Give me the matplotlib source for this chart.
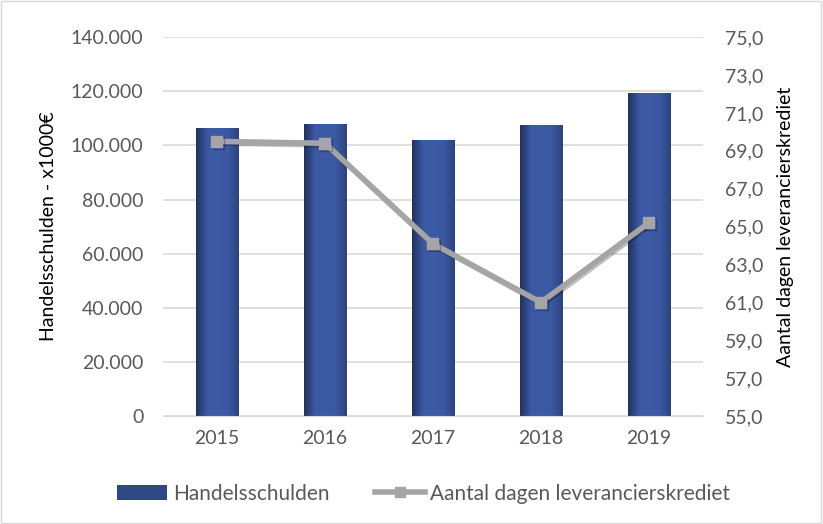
import matplotlib
matplotlib.use("Agg")
import matplotlib.pyplot as plt
import numpy as np
from matplotlib.ticker import FuncFormatter, MultipleLocator, FixedLocator
from matplotlib.colors import LinearSegmentedColormap
from matplotlib.lines import Line2D
from matplotlib.patches import Patch
import matplotlib.patheffects as pe

years = ["2015", "2016", "2017", "2018", "2019"]
handelsschulden = [106500, 108000, 102000, 107500, 119300]
dagen = [69.5, 69.4, 64.1, 61.0, 65.2]

plt.rcParams['font.family'] = ['Lato', 'DejaVu Sans']

fig = plt.figure(figsize=(8.23, 5.24), dpi=100)
ax = fig.add_axes([0.198, 0.206, 0.656, 0.723])
ax2 = ax.twinx()

x = np.arange(len(years))
bars = ax.bar(x, handelsschulden, width=0.39, color="#3B58A2", zorder=2)

# gradient shading on bars
cmap = LinearSegmentedColormap.from_list("g", ["#22325E", "#3B58A2", "#3D5AA5", "#3B58A2", "#2C4380"])
grad = np.linspace(0, 1, 64).reshape(1, -1)
for b in bars:
    im = ax.imshow(grad, cmap=cmap, aspect='auto', zorder=2.1,
                   extent=[b.get_x(), b.get_x() + b.get_width(), 0, b.get_height()])
    im.set_clip_path(b)

ax.set_xlim(-0.5, len(years) - 0.5)
ax.set_ylim(0, 140000)
ax.yaxis.set_major_locator(MultipleLocator(20000))
ax.yaxis.set_major_formatter(FuncFormatter(lambda v, p: f"{int(v):,}".replace(",", ".")))
ax.set_xticks(x)
ax.set_xticklabels(years)
ax.grid(axis='y', color="#D9D9D9", lw=1.2, zorder=0)
ax.set_axisbelow(True)

ln, = ax2.plot(x, dagen, color="#A5A5A5", lw=4, marker='s', markersize=8,
               markerfacecolor="#A5A5A5", markeredgecolor="#A5A5A5", zorder=3,
               path_effects=[pe.SimpleLineShadow(offset=(1.2, -1.2), alpha=0.25), pe.Normal()])
ax2.set_ylim(55, 75)
ax2.yaxis.set_major_locator(FixedLocator(np.arange(55, 76, 2)))
ax2.yaxis.set_major_formatter(FuncFormatter(lambda v, p: f"{v:.1f}".replace(".", ",")))

for a in (ax, ax2):
    for s in ("top", "left", "right"):
        a.spines[s].set_visible(False)
    a.spines["bottom"].set_color("#D9D9D9")
    a.tick_params(length=0, labelsize=14, colors="#595959")
ax2.spines["bottom"].set_visible(False)
ax.tick_params(axis='y', pad=14)
ax2.tick_params(axis='y', pad=16)
ax.tick_params(axis='x', pad=10)

ax.set_ylabel("Handelsschulden - x1000€", fontsize=14, color="black", labelpad=10)
ax2.set_ylabel("Aantal dagen leverancierskrediet", fontsize=14, color="black", labelpad=10)

h1 = Patch(facecolor="#2E4785", edgecolor="none")
h2 = Line2D([], [], color="#A5A5A5", lw=4, marker='s', markersize=7)
fig.legend([h1, h2], ["Handelsschulden", "Aantal dagen leverancierskrediet"],
           loc="center", bbox_to_anchor=(0.515, 0.058), ncol=2, frameon=False,
           fontsize=15, labelcolor="#595959", handlelength=2.4, columnspacing=2.2,
           handletextpad=0.25)

fig.patches.append(plt.Rectangle((0.001, 0.001), 0.997, 0.997, transform=fig.transFigure,
                                 fill=False, edgecolor="#D9D9D9", lw=1))

fig.savefig("out.png", dpi=100)
